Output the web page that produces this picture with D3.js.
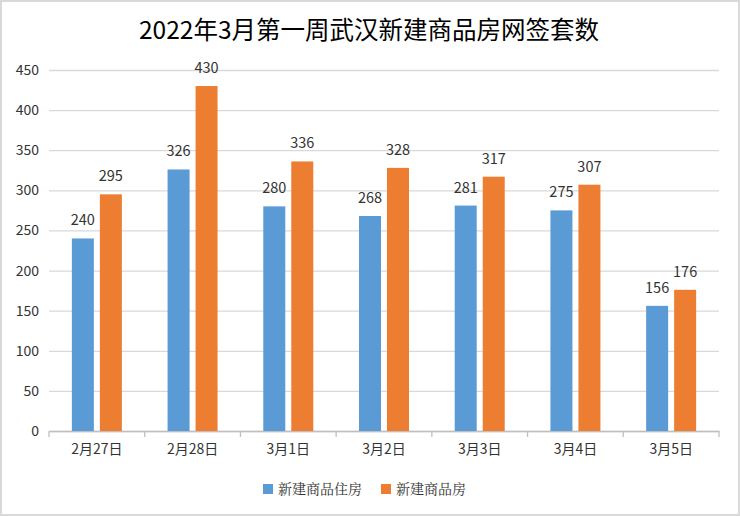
<!DOCTYPE html>
<html><head><meta charset="utf-8">
<script src="https://cdn.jsdelivr.net/npm/d3@7"></script>
<style>body{margin:0;background:#fff}svg{display:block}</style>
</head><body><svg id="c" width="740" height="516"></svg>
<script>
const categories = ["2月27日","2月28日","3月1日","3月2日","3月3日","3月4日","3月5日"];
const seriesNames = ["新建商品住房","新建商品房"];
const residential = [240,326,280,268,281,275,156];
const allHousing = [295,430,336,328,317,307,176];
const yTicks = [0,50,100,150,200,250,300,350,400,450];
const colors = ["#5b9bd5","#ed7d31"];
const title = "2022年3月第一周武汉新建商品房网签套数";

const svg = d3.select("#c");
const font = "'Noto Sans CJK SC', 'Noto Sans', sans-serif";
svg.append("rect").attr("x",1).attr("y",1).attr("width",738).attr("height",514)
  .attr("fill","#fff").attr("stroke","#d9d9d9").attr("stroke-width",2);

const L=49,R=719,T=70,B=431;
const x = d3.scaleBand().domain(categories).range([L,R]);
const y = d3.scaleLinear().domain([0,450]).range([B,T]);

svg.append("text").attr("x",369).attr("y",39).attr("text-anchor","middle")
  .attr("font-family",font).attr("font-size",24.5).attr("fill","#000").text(title);

const grid = svg.append("g").attr("transform",`translate(${L},0)`)
  .call(d3.axisLeft(y).tickValues(yTicks).tickSize(-(R-L)).tickPadding(10));
grid.select(".domain").remove();
grid.selectAll(".tick line").attr("stroke","#d9d9d9").attr("stroke-width",1.3);
grid.selectAll(".tick text").attr("font-family",font).attr("font-size",14).attr("fill","#333");

const xa = svg.append("g").attr("transform",`translate(0,${B})`)
  .call(d3.axisBottom(x).tickSize(0).tickPadding(13));
xa.select(".domain").attr("stroke","#bfbfbf").attr("stroke-width",1.3);
xa.selectAll(".tick text").attr("font-family",font).attr("font-size",14).attr("fill","#333");
const bounds = categories.map(c=>x(c)).concat([R]);
svg.append("g").selectAll("line").data(bounds).join("line")
  .attr("x1",d=>d).attr("x2",d=>d).attr("y1",B).attr("y2",B+6)
  .attr("stroke","#bfbfbf").attr("stroke-width",1.3);

const bw = 22, off = 14;
const series = [residential, allHousing];
series.forEach((vals,si)=>{
  const g = svg.append("g");
  g.selectAll("rect").data(vals).join("rect")
    .attr("x",(d,i)=>x(categories[i])+x.bandwidth()/2+(si===0?-off:off)-bw/2)
    .attr("y",d=>y(d)).attr("width",bw).attr("height",d=>B-y(d))
    .attr("fill",colors[si]);
  g.selectAll("text").data(vals).join("text")
    .attr("x",(d,i)=>x(categories[i])+x.bandwidth()/2+(si===0?-off:off))
    .attr("y",d=>y(d)-13).attr("text-anchor","middle")
    .attr("font-family",font).attr("font-size",14.5).attr("fill","#333").text(d=>d);
});

const leg = svg.append("g");
const legX = [263,381];
seriesNames.forEach((n,i)=>{
  leg.append("rect").attr("x",legX[i]).attr("y",484).attr("width",10).attr("height",10).attr("fill",colors[i]);
  leg.append("text").attr("x",legX[i]+15).attr("y",494).attr("font-family","'Noto Serif CJK SC', serif, "+font)
    .attr("font-size",14).attr("fill","#333").text(n);
});
</script></body></html>
